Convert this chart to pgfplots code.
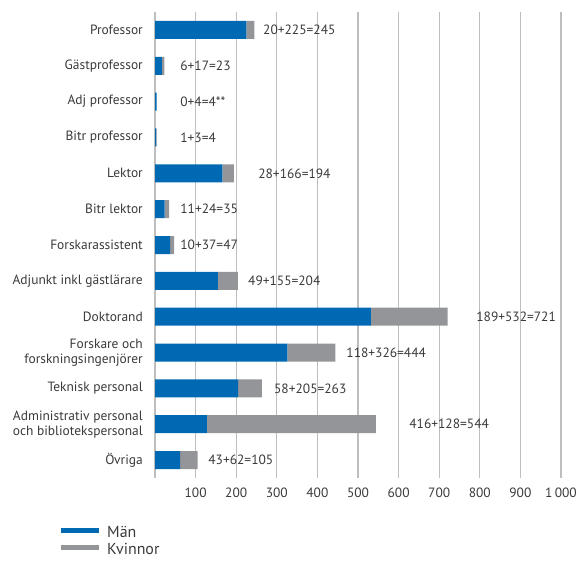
\documentclass[border=0pt]{standalone}
\usepackage{pgfplots}
\pgfplotsset{compat=1.18}
\usepackage{fontspec}
\setmainfont{PT Sans}
\definecolor{man}{HTML}{0069B4}
\definecolor{kv}{HTML}{939598}
\definecolor{txt}{HTML}{3A3A3A}
\definecolor{grd}{HTML}{BEBEBE}
\newcommand\lbfont{\fontsize{13.5}{15}\selectfont}
\tikzset{vl/.style={anchor=west, inner sep=0pt, text=txt, font=\lbfont}}
\pgfplotsset{swatch/.style={legend image code/.code={\fill[##1,draw=none] (0bp,0.5bp) rectangle (38bp,5.5bp);}}}
\begin{document}
\begin{tikzpicture}
\useasboundingbox (0,0) rectangle (579bp,561bp);
\begin{axis}[
  at={(155bp,83bp)}, anchor=south west,
  scale only axis, width=406bp, height=466bp,
  xbar stacked, bar width=18bp,
  xmin=0, xmax=1000, ymin=-0.5, ymax=12.5,
  y dir=reverse,
  ytick={0,...,12},
  yticklabels={Professor, Gästprofessor, Adj professor, Bitr professor, Lektor, Bitr lektor, Forskarassistent, Adjunkt inkl gästlärare, Doktorand, {Forskare och\\forskningsingenjörer}, Teknisk personal, {Administrativ personal\\och bibliotekspersonal}, Övriga},
  yticklabel style={align=right, font=\lbfont, text=txt, inner sep=0pt, xshift=-12bp},
  xtick={0,100,...,1000},
  xticklabels={,100,200,300,400,500,600,700,800,900,1\,000},
  xticklabel style={font=\lbfont, text=txt, inner sep=0pt, yshift=-10bp},
  axis line style={draw=none},
  major tick length=0pt,
  xmajorgrids, grid style={grd, line width=1.1bp},
  clip=false,
  legend style={at={(-0.2315,-0.1040)}, anchor=north west, draw=none, fill=none,
    inner sep=0pt, row sep=4bp, column sep=8bp,
    nodes={inner sep=0pt, text height=11bp, text depth=2bp, text=txt, font=\fontsize{16}{18}\selectfont}},
  legend cell align=left,
  swatch,
]
\addplot[fill=man, draw=none] coordinates {(225,0) (17,1) (4,2) (3,3) (166,4) (24,5) (37,6) (155,7) (532,8) (326,9) (205,10) (128,11) (62,12)};
\addlegendentry{Män}
\addplot[fill=kv, draw=none] coordinates {(20,0) (6,1) (0,2) (1,3) (28,4) (11,5) (10,6) (49,7) (189,8) (118,9) (58,10) (416,11) (43,12)};
\addlegendentry{Kvinnor}
\node[vl] at (axis cs:266,0) {20+225=245};
\node[vl] at (axis cs:62,1) {6+17=23};
\node[vl] at (axis cs:62,2) {0+4=4**};
\node[vl] at (axis cs:62,3) {1+3=4};
\node[vl] at (axis cs:254,4) {28+166=194};
\node[vl] at (axis cs:62,5) {11+24=35};
\node[vl] at (axis cs:62,6) {10+37=47};
\node[vl] at (axis cs:229,7) {49+155=204};
\node[vl] at (axis cs:791,8) {189+532=721};
\node[vl] at (axis cs:471,9) {118+326=444};
\node[vl] at (axis cs:293,10) {58+205=263};
\node[vl] at (axis cs:626,11) {416+128=544};
\node[vl] at (axis cs:131,12) {43+62=105};
\end{axis}
\end{tikzpicture}
\end{document}
